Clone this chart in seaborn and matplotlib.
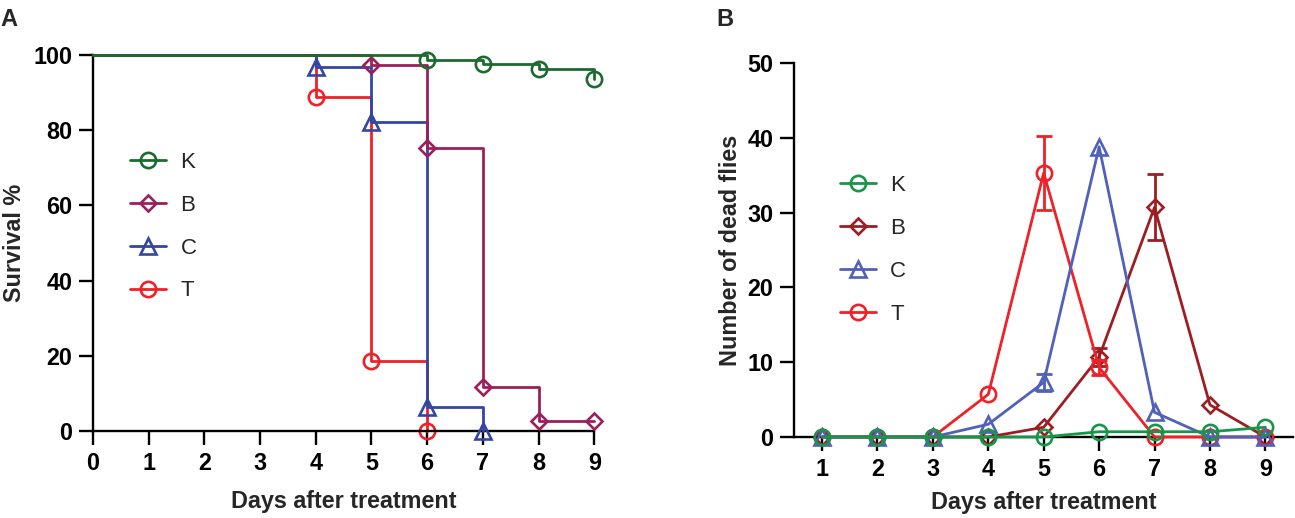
import numpy as np
import pandas as pd
import matplotlib
matplotlib.use("Agg")
import matplotlib.pyplot as plt
import seaborn as sns
from matplotlib.lines import Line2D

groups = ["K", "B", "C", "T"]

# panel A - survival (%), step points (day, value)
surv_days = {
    "K": [0, 6, 7, 8, 9],
    "B": [0, 5, 6, 7, 8, 9],
    "C": [0, 4, 5, 6, 7],
    "T": [0, 4, 5, 6],
}
surv_vals = {
    "K": [100, 98.7, 97.5, 96.2, 93.7],
    "B": [100, 97.3, 75.2, 11.8, 2.7, 2.7],
    "C": [100, 96.8, 82.3, 6.5, 0],
    "T": [100, 88.7, 18.7, 0],
}

# panel B - number of dead flies per day (mean, error)
days = [1, 2, 3, 4, 5, 6, 7, 8, 9]
dead_K = [0, 0, 0, 0, 0, 0.7, 0.7, 0.7, 1.3]
dead_B = [0, 0, 0, 0, 1.3, 10.7, 30.7, 4.3, 0]
dead_C = [0, 0, 0, 1.7, 7.3, 38.8, 3.3, 0, 0]
dead_T = [0, 0, 0, 5.7, 35.3, 9.3, 0, 0, 0]
err_K = [0, 0, 0, 0, 0, 0, 0, 0, 0]
err_B = [0, 0, 0, 0, 0, 1.2, 4.4, 0, 0]
err_C = [0, 0, 0, 0, 1.1, 0, 0, 0, 0]
err_T = [0, 0, 0, 0, 4.9, 1.0, 0, 0, 0]

dead = {"K": dead_K, "B": dead_B, "C": dead_C, "T": dead_T}
errs = {"K": err_K, "B": err_B, "C": err_C, "T": err_T}

colors_a = {"K": "#1d6a2f", "B": "#9c1f5b", "C": "#3346a5", "T": "#ef2027"}
colors_b = {"K": "#17964a", "B": "#9d1e22", "C": "#5060bb", "T": "#ef2027"}
markers = {"K": "o", "B": "D", "C": "^", "T": "o"}
msizes = {"o": 11, "D": 7.8, "^": 12}

sns.set_theme(style="ticks")
plt.rcParams["font.family"] = ["Liberation Sans", "DejaVu Sans"]

LW = 2.0
MEW = 1.9
FS = 16.8

fig = plt.figure(figsize=(12.95, 5.18), dpi=100)
axA = fig.add_axes([0.0718, 0.168, 0.3871, 0.7259])
axB = fig.add_axes([0.6134, 0.1564, 0.3851, 0.722])


def style_axis(ax):
    sns.despine(ax=ax)
    for s in ["left", "bottom"]:
        ax.spines[s].set_linewidth(1.7)
        ax.spines[s].set_color("black")
    ax.tick_params(axis="both", length=10, width=1.7, pad=5, labelsize=FS,
                   colors="black")
    for lab in ax.get_xticklabels() + ax.get_yticklabels():
        lab.set_fontweight("bold")


def make_legend(ax, colors, anchor):
    handles = [Line2D([], [], color=colors[g], lw=LW, marker=markers[g],
                      ms=msizes[markers[g]], mfc="none", mec=colors[g], mew=MEW)
               for g in groups]
    ax.legend(handles, groups, loc="upper left", bbox_to_anchor=anchor,
              frameon=False, fontsize=16, handlelength=1.62, handletextpad=0.65,
              labelspacing=0.98, borderpad=0, borderaxespad=0)


# ---- panel A ----
for z, g in zip([2, 3, 4, 5], ["T", "C", "B", "K"]):
    df = pd.DataFrame({"day": surv_days[g], "survival": surv_vals[g]})
    m = markers[g]
    sns.lineplot(data=df, x="day", y="survival", ax=axA, color=colors_a[g],
                 lw=LW, drawstyle="steps-post", marker=m, ms=msizes[m],
                 mfc="none", mec=colors_a[g], mew=MEW,
                 markevery=list(range(1, len(df))), clip_on=False, zorder=z)

axA.set_xlim(0, 9)
axA.set_ylim(0, 100)
axA.set_xticks(range(0, 10))
axA.set_yticks(range(0, 101, 20))
axA.set_xlabel("Days after treatment", fontsize=FS, fontweight="bold")
axA.set_ylabel("Survival %", fontsize=FS, fontweight="bold")
style_axis(axA)
axA.yaxis.set_label_coords(-0.133, 0.5)
axA.xaxis.set_label_coords(0.5, -0.158)
make_legend(axA, colors_a, (0.074, 0.742))

# ---- panel B ----
for z, g in zip([2, 3, 4, 5], ["B", "T", "C", "K"]):
    df = pd.DataFrame({"day": days, "dead": dead[g]})
    m = markers[g]
    sns.lineplot(data=df, x="day", y="dead", ax=axB, color=colors_b[g],
                 lw=LW, marker=m, ms=msizes[m], mfc="none", mec=colors_b[g],
                 mew=MEW, clip_on=False, zorder=z)
    e = np.array(errs[g])
    mask = e > 0
    axB.errorbar(np.array(days)[mask], np.array(dead[g])[mask], yerr=e[mask],
                 fmt="none", ecolor=colors_b[g], elinewidth=LW, capsize=5.6,
                 capthick=LW, zorder=z)

axB.set_xlim(0.5, 9.5)
axB.set_ylim(0, 50)
axB.set_xticks(days)
axB.set_yticks(range(0, 51, 10))
axB.set_xlabel("Days after treatment", fontsize=FS, fontweight="bold")
axB.set_ylabel("Number of dead flies", fontsize=FS, fontweight="bold")
style_axis(axB)
axB.yaxis.set_label_coords(-0.104, 0.5)
axB.xaxis.set_label_coords(0.5, -0.145)
make_legend(axB, colors_b, (0.091, 0.70))

fig.text(0.0, 0.985, "A", fontsize=17, fontweight="bold", va="top", ha="left")
fig.text(0.553, 0.985, "B", fontsize=17, fontweight="bold", va="top", ha="left")

fig.savefig("out.png", dpi=100)
